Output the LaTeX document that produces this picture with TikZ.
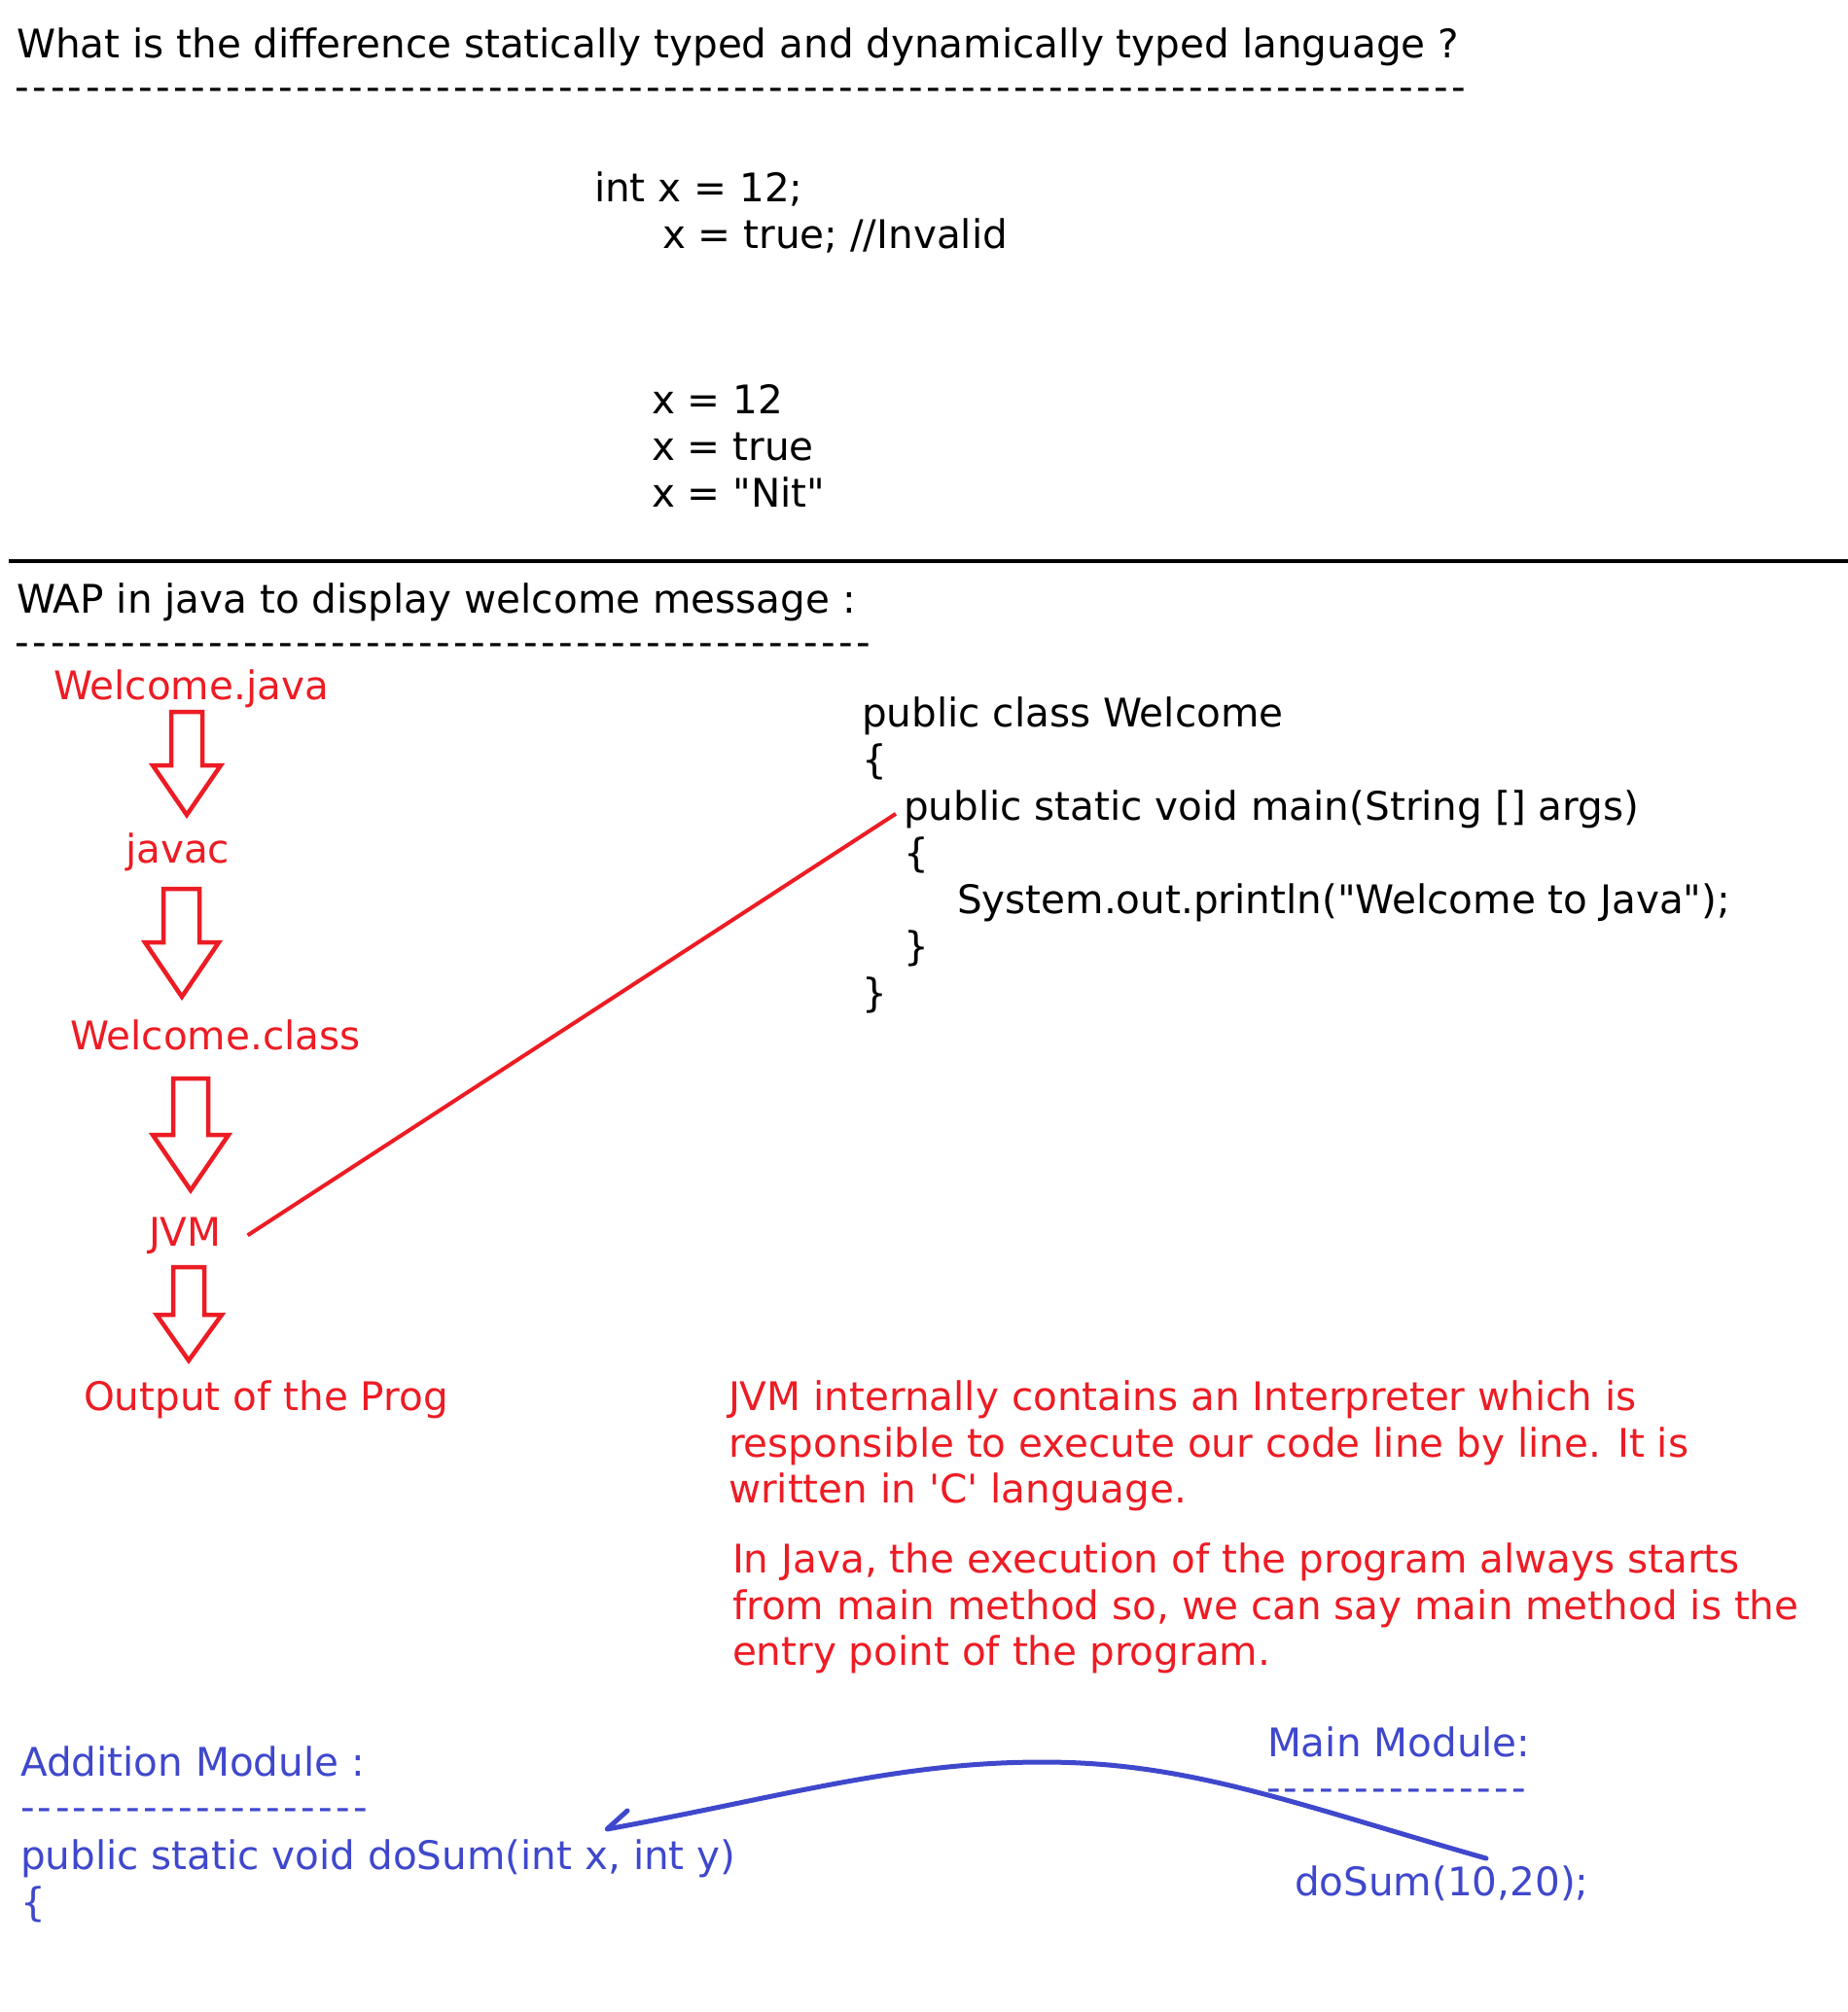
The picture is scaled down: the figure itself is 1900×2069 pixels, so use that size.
\documentclass[tikz,border=0pt]{standalone}
\usepackage{fontspec}
\setmainfont{DejaVu Sans}
\definecolor{pred}{RGB}{237,28,36}
\definecolor{pblue}{RGB}{63,72,204}
\newcount\hycnt
\newcommand\hyrow[1]{\hycnt=0 \loop\ifnum\hycnt<#1 \hbox to 18pt{-\hss}\advance\hycnt by 1 \repeat}
\newcommand\qd{\textquotedbl}
\begin{document}
\begin{tikzpicture}[x=1pt,y=-1pt,
  txt/.style={anchor=base west, inner sep=0pt, outer sep=0pt, font=\fontsize{40.5}{48}\selectfont},
  redtxt/.style={txt, text=pred},
  bluetxt/.style={txt, text=pblue},
  blockarrow/.style={draw=pred, line width=4.5pt, line join=miter},
  link/.style={draw=pred, line width=4pt},
  call/.style={draw=pblue, line width=5pt, line cap=round, line join=round},
  rule/.style={draw=black, line width=4pt}]
\useasboundingbox[fill=white] (0,0) rectangle (1900,2069);

% ---- top section
\node[txt] (title) at (17,59) {What is the difference statically typed and dynamically typed language ?};
\node[txt] (dashA) at (16,103) {\hyrow{83}};
\node[txt] (st1) at (611,207) {int x = 12;};
\node[txt] (st2) at (681,255) {x = true; //Invalid};
\node[txt] (dy1) at (670,425) {x = 12};
\node[txt] (dy2) at (670,473) {x = true};
\node[txt] (dy3) at (670,521) {x = \qd Nit\qd};

\coordinate (ruleL) at (9,577);
\coordinate (ruleR) at (1900,577);
\draw[rule] (ruleL) -- (ruleR);

% ---- second section
\node[txt] (wap) at (17,630) {WAP in java to display welcome message :};
\node[txt] (dashB) at (16,674) {\hyrow{49}};

\node[redtxt] (wjava) at (55,719) {Welcome.java};
\node[redtxt] (javac) at (129,887) {javac};
\node[redtxt] (wclass) at (72,1079) {Welcome.class};
\node[redtxt] (jvm) at (153,1281) {JVM};
\node[redtxt] (outp) at (86,1450) {Output of the Prog};

\draw[blockarrow] (176,732) -- (208,732) -- (208,787) -- (227,787) -- (192,838) -- (157,787) -- (176,787) -- cycle;
\draw[blockarrow] (168,914) -- (205,914) -- (205,969) -- (225,969) -- (187,1025) -- (149,969) -- (168,969) -- cycle;
\draw[blockarrow] (178,1109) -- (214,1109) -- (214,1167) -- (235,1167) -- (196,1224) -- (157,1167) -- (178,1167) -- cycle;
\draw[blockarrow] (178,1303) -- (210,1303) -- (210,1352) -- (228,1352) -- (194,1399) -- (161,1352) -- (178,1352) -- cycle;

\node[txt] (cls) at (886,747) {public class Welcome};
\node[txt] (ob1) at (886,795) {\{};
\node[txt] (mainm) at (929,843) {public static void main(String [] args)};
\node[txt] (ob2) at (929,891) {\{};
\node[txt] (prt) at (984,939) {System.out.println(\qd Welcome to Java\qd);};
\node[txt] (cb2) at (929,987) {\}};
\node[txt] (cb1) at (886,1035) {\}};

\draw[link] ([xshift=27pt]jvm.east) -- ([xshift=-8pt,yshift=-5pt]mainm.west);

\node[redtxt] (p1a) at (749,1450) {JVM internally contains an Interpreter which is};
\node[redtxt] (p1b) at (749,1498) {responsible to execute our code line by line. It is};
\node[redtxt] (p1c) at (749,1545) {written in \textquotesingle C\textquotesingle\ language.};
\node[redtxt] (p2a) at (753,1617) {In Java, the execution of the program always starts};
\node[redtxt] (p2b) at (753,1665) {from main method so, we can say main method is the};
\node[redtxt] (p2c) at (753,1712) {entry point of the program.};

% ---- blue section
\node[bluetxt] (addm) at (21,1826) {Addition Module :};
\node[bluetxt] (dashC) at (21,1872) {\hyrow{20}};
\node[bluetxt] (dsig) at (21,1922) {public static void doSum(int x, int y)};
\node[bluetxt] (dob) at (21,1970) {\{};

\node[bluetxt] (mainmod) at (1303,1806) {Main Module:};
\node[bluetxt] (dashD) at (1302,1852) {\hyrow{15}};
\node[bluetxt] (dcall) at (1331,1949) {doSum(10,20);};

\coordinate (callstart) at (1528,1911);
\coordinate (callpeak) at (1072,1812);
\coordinate (calltip) at (624,1881);
\coordinate (callbarb) at (645,1862);
\draw[call] (callstart) .. controls (1328,1854) and (1222,1812) .. (callpeak)
  .. controls (922,1812) and (804,1848) .. (calltip) -- (callbarb);
\end{tikzpicture}
\end{document}
